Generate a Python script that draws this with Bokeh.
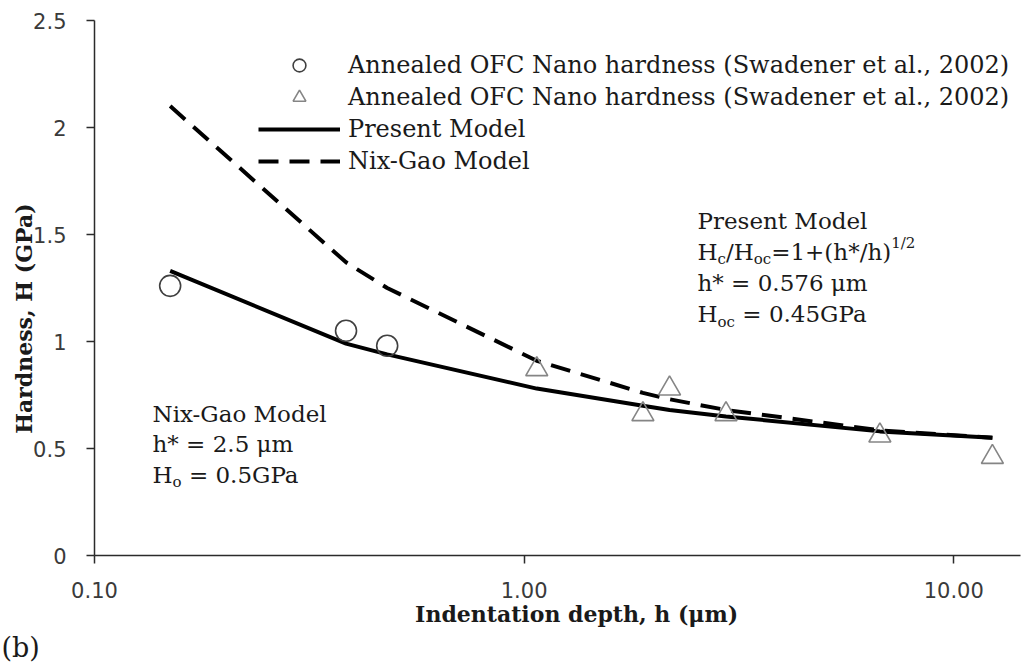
from bokeh.plotting import figure
from bokeh.models import (Range1d, FixedTicker, CustomJSTickFormatter, Legend,
                          LegendItem, Label, Title)
from bokeh.embed import file_html
from bokeh.resources import INLINE

# ---------------- data ----------------
circle_h = [0.15, 0.385, 0.48]                      # indentation depth (um)
circle_H = [1.26, 1.05, 0.98]                       # hardness (GPa)
triangle_h = [1.07, 1.89, 2.18, 2.95, 6.73, 12.3]
triangle_H = [0.87, 0.66, 0.78, 0.66, 0.56, 0.46]
model_h = [0.15, 0.385, 0.48, 1.07, 1.89, 2.18, 2.95, 6.73, 12.3]
present_H = [1.33, 0.99, 0.94, 0.78, 0.70, 0.68, 0.65, 0.58, 0.55]
nixgao_H = [2.10, 1.37, 1.25, 0.91, 0.76, 0.73, 0.68, 0.585, 0.55]
x_ticks = [0.1, 1, 10]
y_ticks = [0, 0.5, 1, 1.5, 2, 2.5]
legend_labels = ["Annealed OFC Nano hardness (Swadener et al., 2002)",
                 "Annealed OFC Nano hardness (Swadener et al., 2002)",
                 "Present Model",
                 "Nix-Gao Model"]
x_title = "Indentation depth, h (\u03bcm)"
y_title = "Hardness, H (GPa)"
panel_tag = "(b)"
NB = "\u00a0"
present_note = [[("Present Model", "n")],
                [("H", "n"), ("c", "sub"), ("/H", "n"), ("oc", "sub"),
                 ("=1+(h*/h)", "n"), ("1/2", "sup")],
                [("h* = 0.576 \u03bcm", "n")],
                [("H", "n"), ("oc", "sub"), (NB + "= 0.45GPa", "n")]]
nix_note = [[("Nix-Gao Model", "n")],
            [("h* = 2.5 \u03bcm", "n")],
            [("H", "n"), ("o", "sub"), (NB + "= 0.5GPa", "n")]]

# ---------------- figure ----------------
FL, FB = 94, 555          # frame left / bottom on the canvas
SERIF = "DejaVu Serif"

p = figure(width=1024, height=665, x_axis_type="log",
           x_range=Range1d(0.1, 14.3), y_range=Range1d(0, 2.5),
           output_backend="svg", toolbar_location=None,
           min_border_left=FL, min_border_right=4, min_border_top=20,
           min_border_bottom=665 - FB)
p.grid.visible = False
p.outline_line_color = None
p.background_fill_color = "white"
p.border_fill_color = "white"

for ax in (p.xaxis[0], p.yaxis[0]):
    ax.axis_line_color = "#2b2b2b"
    ax.axis_line_width = 1.5
    ax.major_tick_line_color = "#2b2b2b"
    ax.major_tick_line_width = 1.5
    ax.major_tick_out = 8
    ax.major_tick_in = 0
    ax.minor_tick_line_color = None
    ax.major_label_text_font = "DejaVu Sans"
    ax.major_label_text_font_size = "21px"
    ax.major_label_text_color = "#3a3a3a"
    ax.axis_label_text_font = SERIF
    ax.axis_label_text_font_style = "bold"
    ax.axis_label_text_font_size = "22px"
    ax.axis_label_text_color = "#1a1a1a"

p.xaxis.ticker = FixedTicker(ticks=x_ticks)
p.yaxis.ticker = FixedTicker(ticks=y_ticks)
p.xaxis.formatter = CustomJSTickFormatter(code="return tick.toFixed(2);")
p.yaxis.formatter = CustomJSTickFormatter(code="return String(tick);")
p.xaxis.major_label_standoff = 18
p.yaxis.major_label_standoff = 20

# axis titles (non-breaking padding nudges them off the frame centre)
p.xaxis.axis_label = NB * 5 + x_title
p.xaxis.axis_label_standoff = 0
p.yaxis.axis_label = y_title + NB * 8
p.yaxis.axis_label_standoff = -7

p.add_layout(Title(text=panel_tag, align="left", offset=-(FL - 1),
                   text_font=SERIF, text_font_size="27px",
                   text_font_style="normal", text_color="#1a1a1a",
                   standoff=0), "below")

# ---------------- glyphs ----------------
r_present = p.line(model_h, present_H, line_width=4, line_color="black")
r_nix = p.line(model_h, nixgao_H, line_width=4, line_color="black",
               line_dash="20 11")
r_circ = p.scatter(circle_h, circle_H, marker="circle", size=21,
                   fill_color=None, line_color="#404040", line_width=1.6)
r_tri = p.scatter(triangle_h, triangle_H, marker="triangle", size=22,
                  fill_color=None, line_color="#858585", line_width=1.6)

legend = Legend(items=[LegendItem(label=legend_labels[0], renderers=[r_circ]),
                       LegendItem(label=legend_labels[1], renderers=[r_tri]),
                       LegendItem(label=legend_labels[2], renderers=[r_present]),
                       LegendItem(label=legend_labels[3], renderers=[r_nix])],
                location=(258 - FL, FB - 177), orientation="vertical",
                glyph_width=82, glyph_height=32, label_height=32, spacing=0,
                padding=0, margin=0, label_standoff=8,
                border_line_color=None, background_fill_alpha=0,
                label_text_font=SERIF, label_text_font_size="24px",
                label_text_color="#1a1a1a")
p.add_layout(legend)

# ---------------- in-plot notes ----------------
W = {'H': .872, 'c': .56, 'o': .602, '/': .337, '=': .838, '1': .636, '+': .838,
     '(': .39, ')': .39, 'h': .644, '*': .5, ' ': .318, NB: .318, '.': .318,
     'm': .948, 'G': .775, 'P': .673, 'a': .596, '\u03bc': .659}


def tw(s, size):
    return sum(W.get(ch, .636) for ch in s) * size


def put(text, X, Y, size):
    p.add_layout(Label(x=X - FL, y=FB - Y, x_units="screen", y_units="screen",
                       text=text, text_font=SERIF, text_font_size=f"{size}px",
                       text_align="left", text_baseline="middle",
                       text_color="#1a1a1a"))


def rich(lines, X, Y0, F, pitch):
    for i, segs in enumerate(lines):
        x = X
        Y = Y0 + i * pitch
        for txt, kind in segs:
            if kind == "n":
                size, dy = F, 0
            elif kind == "sub":
                size, dy = round(F * 0.65), F * 0.32
            else:
                size, dy = round(F * 0.65), -F * 0.38
            put(txt, x, Y + dy, size)
            x += tw(txt, size)


rich(present_note, 697, 220, 23, 31.3)
rich(nix_note, 152, 413, 23, 30.5)

open("out.html", "w").write(file_html(p, INLINE))
